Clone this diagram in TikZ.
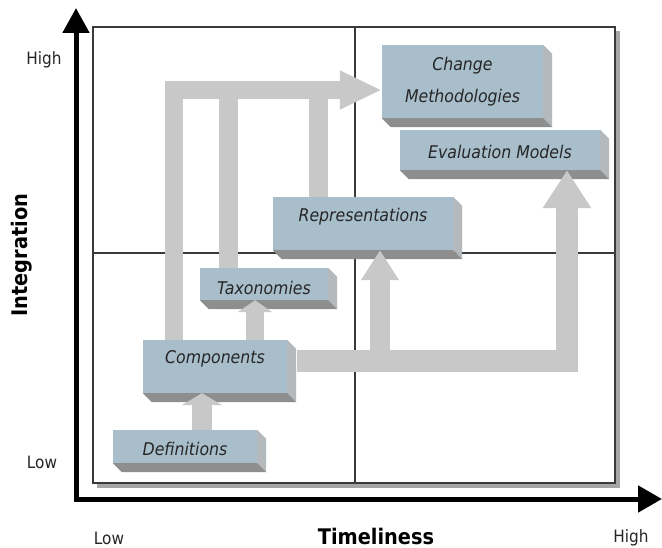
\documentclass[tikz,border=0pt]{standalone}
\usepackage{fontspec}
\newfontfamily\tah{DejaVu Sans Condensed}
\usetikzlibrary{arrows.meta,calc}
\definecolor{blockfill}{HTML}{A8BECB}
\definecolor{sidegray}{HTML}{B4B9BD}
\definecolor{botgray}{HTML}{8E8E8E}
\definecolor{arrowgray}{HTML}{C8C8C8}
\definecolor{gridline}{HTML}{3A3A3A}
\definecolor{gridshadow}{HTML}{A6A6A6}
\pgfdeclarelayer{gridlayer}
\pgfdeclarelayer{extlayer}
\pgfdeclarelayer{arrlayer}
\pgfsetlayers{gridlayer,extlayer,arrlayer,main}
\tikzset{
  blockface/.style={fill=blockfill, draw=none, inner sep=0pt, align=center,
    text=black!85, font=\tah\itshape\fontsize{17.5}{32}\selectfont},
  sideface/.style={fill=sidegray},
  bottomface/.style={fill=botgray},
  garrow/.style={draw=arrowgray, line width=#1, line join=miter},
  axislabel/.style={font=\tah\fontsize{17}{20}\selectfont, text=black!85, inner sep=0pt},
  axistitle/.style={font=\tah\bfseries\fontsize{21.5}{25}\selectfont, text=black, inner sep=0pt},
}
\newcommand\tx[2]{\raisebox{#1}[0pt][0pt]{#2}}
\newcommand\mkblock[6]{%
  \node[blockface, minimum width={#4-#2}, minimum height={#5-#3}]
    (#1) at ({(#2+#4)/2},{(#3+#5)/2}) {#6};
  \begin{pgfonlayer}{extlayer}
    \fill[sideface] (#1.north east) -- ++(9,9) -- ($(#1.south east)+(9,9)$) -- (#1.south east) -- cycle;
    \fill[bottomface] (#1.south west) -- (#1.south east) -- ++(9,9) -- ($(#1.south west)+(9,9)$) -- cycle;
  \end{pgfonlayer}}
\begin{document}
\begin{tikzpicture}[x=1pt,y=-1pt]
\useasboundingbox (0,0) rectangle (662,548);
% grid box
\begin{pgfonlayer}{gridlayer}
  \fill[white] (0,0) rectangle (662,548);
  \fill[gridshadow] (97,31) rectangle (620,488);
  \filldraw[fill=white, draw=gridline, line width=1.3pt] (93,27) rectangle (615,483);
  \draw[gridline, line width=1.3pt] (355,27) -- (355,483);
  \draw[gridline, line width=1.3pt] (93,253) -- (615,253);
\end{pgfonlayer}
% axes
\coordinate (ytip) at (76,8);
\coordinate (origin) at (76,499);
\coordinate (xtip) at (662,499);
\draw[line width=5pt, line join=miter,
  {Triangle[width=26pt,length=25pt]}-{Triangle[width=26pt,length=24pt]}]
  (ytip) -- (origin) -- (xtip);
% blocks
\mkblock{chg}{382}{45}{543}{118}{Change\\Methodologies}
\mkblock{eval}{400}{130}{600}{170}{\tx{-8.5pt}{Evaluation Models}}
\mkblock{rep}{273}{197}{453}{250}{\tx{1.5pt}{Representations}}
\mkblock{tax}{200}{268}{328}{300}{\tx{-10.5pt}{Taxonomies}}
\mkblock{comp}{143}{340}{287}{393}{\tx{3pt}{Components}}
\mkblock{def}{113}{430}{257}{463}{\tx{-8.5pt}{Definitions}}
% helper coordinates
\coordinate (xa) at (202,0);
\coordinate (xb) at (255,0);
\coordinate (xc) at (174,0);
\coordinate (xt) at (228,0);
\coordinate (xs) at (318,0);
\coordinate (xr) at (380,0);
\coordinate (xe) at (567,0);
\coordinate (ytop) at (0,90);
\coordinate (yband) at (0,361);
% arrows
\begin{pgfonlayer}{arrlayer}
  \draw[garrow=20pt, -{Triangle[width=40pt,length=12pt]}, arrowgray]
    (xa |- def.north) -- (xa |- comp.south);
  \draw[garrow=18pt, -{Triangle[width=34pt,length=12pt]}, arrowgray]
    (xb |- comp.north) -- (xb |- tax.south);
  \draw[garrow=22pt, -{Triangle[width=46pt,length=38pt]}, arrowgray]
    ($(comp.east |- yband)+(10,0)$) -- (xe |- yband) -- (xe |- eval.south);
  \draw[garrow=20pt, -{Triangle[width=36pt,length=30pt]}, arrowgray]
    (xr |- yband) -- (xr |- rep.south);
  \draw[garrow=18pt, -{Triangle[width=36pt,length=42pt]}, arrowgray]
    (xc |- comp.north) -- (xc |- ytop) -- (chg.west |- ytop);
  \draw[garrow=19pt] (xt |- tax.north) -- (xt |- ytop);
  \draw[garrow=19pt] (xs |- rep.north) -- (xs |- ytop);
\end{pgfonlayer}
% axis labels
\node[axislabel] (yhigh) at (44,60) {High};
\node[axislabel] (ylow) at (42,462) {Low};
\node[axislabel] (xlow) at (109,538) {Low};
\node[axislabel] (xhigh) at (631,538) {High};
\node[axistitle] (xtitle) at (376,536) {Timeliness};
\node[axistitle, rotate=90] (ytitle) at (22,255) {Integration};
\end{tikzpicture}
\end{document}
